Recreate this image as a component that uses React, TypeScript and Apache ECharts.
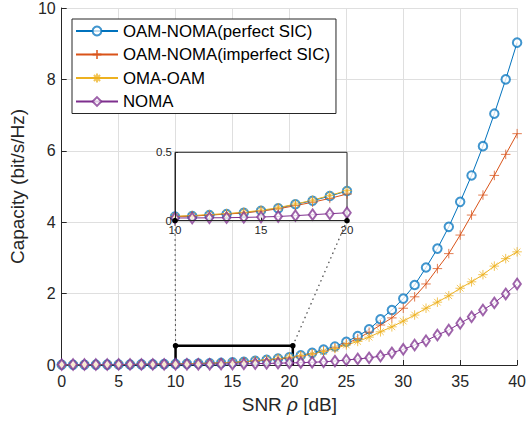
import React, { useEffect, useRef } from "react";
import * as echarts from "echarts";

const snr = [0, 1, 2, 3, 4, 5, 6, 7, 8, 9, 10, 11, 12, 13, 14, 15, 16, 17, 18, 19, 20, 21, 22, 23, 24, 25, 26, 27, 28, 29, 30, 31, 32, 33, 34, 35, 36, 37, 38, 39, 40];

const perfectSIC = [0.006, 0.007, 0.008, 0.009, 0.011, 0.013, 0.015, 0.018, 0.021, 0.025,
  0.030, 0.034, 0.042, 0.049, 0.058, 0.073, 0.090, 0.120, 0.146, 0.180, 0.217,
  0.27, 0.34, 0.43, 0.52, 0.65, 0.81, 1.00, 1.28, 1.54, 1.86,
  2.24, 2.73, 3.26, 3.87, 4.57, 5.31, 6.13, 7.04, 8.00, 9.03];

const imperfectSIC = [0.006, 0.007, 0.008, 0.009, 0.011, 0.013, 0.015, 0.018, 0.021, 0.025,
  0.030, 0.034, 0.041, 0.048, 0.057, 0.070, 0.087, 0.110, 0.135, 0.163, 0.195,
  0.25, 0.31, 0.39, 0.48, 0.60, 0.74, 0.92, 1.12, 1.32, 1.59,
  1.91, 2.27, 2.70, 3.12, 3.64, 4.20, 4.76, 5.31, 5.90, 6.48];

const omaOam = [0.007, 0.008, 0.009, 0.010, 0.012, 0.014, 0.016, 0.019, 0.023, 0.027,
  0.032, 0.038, 0.045, 0.052, 0.062, 0.076, 0.095, 0.122, 0.150, 0.185, 0.220,
  0.26, 0.31, 0.38, 0.46, 0.56, 0.66, 0.78, 0.93, 1.07, 1.23,
  1.40, 1.59, 1.76, 1.94, 2.15, 2.33, 2.53, 2.77, 2.98, 3.17];

const noma = [0.012, 0.013, 0.013, 0.014, 0.015, 0.016, 0.016, 0.017, 0.018, 0.019,
  0.020, 0.020, 0.021, 0.022, 0.024, 0.027, 0.031, 0.037, 0.044, 0.051, 0.058,
  0.066, 0.076, 0.090, 0.110, 0.140, 0.170, 0.200, 0.250, 0.340, 0.440,
  0.56, 0.68, 0.84, 0.98, 1.17, 1.35, 1.54, 1.74, 1.99, 2.27];

const seriesNames = ["OAM-NOMA(perfect SIC)", "OAM-NOMA(imperfect SIC)", "OMA-OAM", "NOMA"];
const seriesValues = [perfectSIC, imperfectSIC, omaOam, noma];
const seriesColors = ["#0072BD", "#D95319", "#EDB120", "#7E2F8E"];

const xTicks = { min: 0, max: 40, interval: 5 };
const yTicks = { min: 0, max: 10, interval: 2 };
const insetX = { min: 10, max: 20, interval: 5 };
const insetY = { min: 0, max: 0.5, interval: 0.5 };

const zoomBoxX = [10, 10, 20.3, 20.3];
const zoomBoxY = [0, 0.54, 0.54, 0];

const FONT = "'Liberation Sans', Arial, Helvetica, sans-serif";
const TXT = "#262626";

const plusPath = "path://M5,0L5,10M0,5L10,5";
const starPath = "path://M5,0L5,10M0,5L10,5M1.5,1.5L8.5,8.5M8.5,1.5L1.5,8.5";
const symbols: any[] = ["emptyCircle", plusPath, starPath, "emptyDiamond"];
const symbolSizes: any[] = [8.5, 9.5, 9.5, [7.5, 10.5]];

function makeSeries(idx: number, gridIdx: number, from: number, to: number) {
  const vals = seriesValues[idx];
  const color = seriesColors[idx];
  const isPath = idx === 1 || idx === 2;
  return {
    name: seriesNames[idx],
    type: "line",
    xAxisIndex: gridIdx,
    yAxisIndex: gridIdx,
    data: snr.slice(from, to).map((x, i) => [x, vals[from + i]]),
    symbol: symbols[idx],
    symbolSize: symbolSizes[idx],
    showSymbol: true,
    z: gridIdx === 0 ? 3 : 11,
    lineStyle: { color, width: 1 },
    itemStyle: isPath
      ? { color, borderColor: color, borderWidth: 1, opacity: 0.75 }
      : { color, borderWidth: 1, opacity: 0.75 },
    emphasis: { disabled: true },
  };
}

export default function App() {
  const ref = useRef<HTMLDivElement>(null);
  useEffect(() => {
    const chart = echarts.init(ref.current!, undefined, { renderer: "svg" });
    const option: any = {
      animation: false,
      backgroundColor: "#fff",
      textStyle: { fontFamily: FONT },
      grid: [
        { left: 59, right: 10, top: 7.5, bottom: 60, containLabel: false },
        {
          left: 175, top: 152.3, width: 172, height: 68.4, show: true,
          backgroundColor: "#fff", borderColor: TXT, borderWidth: 1, z: 10,
        },
      ],
      legend: {
        orient: "vertical",
        left: 72,
        top: 19,
        data: seriesNames,
        backgroundColor: "#fff",
        borderColor: TXT,
        borderWidth: 1,
        borderRadius: 0,
        padding: [3, 6, 3, 3],
        itemWidth: 42,
        itemHeight: 11,
        itemGap: 5.5,
        textStyle: { fontSize: 16.8, color: "#000", fontFamily: FONT, lineHeight: 18 },
        z: 20,
      },
      xAxis: [
        {
          type: "value", gridIndex: 0, ...xTicks,
          name: "SNR {i|ρ} [dB]",
          nameLocation: "middle", nameGap: 30,
          nameTextStyle: {
            fontSize: 19, color: TXT, fontFamily: FONT,
            rich: { i: { fontSize: 19, fontStyle: "italic", color: TXT, fontFamily: FONT } },
          },
          axisLine: { show: true, onZero: false, lineStyle: { color: TXT, width: 1 } },
          axisTick: { show: true, inside: true, length: 5, lineStyle: { color: TXT } },
          axisLabel: { fontSize: 16, color: TXT, margin: 8, fontFamily: FONT },
          splitLine: { show: true, lineStyle: { color: "#dfdfdf", width: 1 } },
        },
        {
          type: "value", gridIndex: 1, ...insetX, z: 12,
          axisLine: { show: true, onZero: false, lineStyle: { color: TXT, width: 1 } },
          axisTick: { show: true, inside: true, length: 3, lineStyle: { color: TXT } },
          axisLabel: { fontSize: 11.5, color: TXT, margin: 3, fontFamily: FONT },
          splitLine: { show: false },
        },
      ],
      yAxis: [
        {
          type: "value", gridIndex: 0, ...yTicks,
          name: "Capacity (bit/s/Hz)",
          nameLocation: "middle", nameGap: 30,
          nameTextStyle: { fontSize: 19, color: TXT, fontFamily: FONT },
          axisLine: { show: true, onZero: false, lineStyle: { color: TXT, width: 1 } },
          axisTick: { show: true, inside: true, length: 5, lineStyle: { color: TXT } },
          axisLabel: { fontSize: 16, color: TXT, margin: 6, fontFamily: FONT },
          splitLine: { show: true, lineStyle: { color: "#dfdfdf", width: 1 } },
        },
        {
          type: "value", gridIndex: 1, ...insetY, z: 12,
          axisLine: { show: true, onZero: false, lineStyle: { color: TXT, width: 1 } },
          axisTick: { show: true, inside: true, length: 3, lineStyle: { color: TXT } },
          axisLabel: { fontSize: 11.5, color: TXT, margin: 3, fontFamily: FONT },
          splitLine: { show: false },
        },
      ],
      series: [
        {
          name: "zoomBox",
          type: "line",
          xAxisIndex: 0,
          yAxisIndex: 0,
          data: zoomBoxX.map((x, i) => [x, zoomBoxY[i]]),
          symbol: "none",
          lineStyle: { color: "#000", width: 2.5 },
          z: 2.5,
          emphasis: { disabled: true },
        },
        ...seriesNames.map((_, i) => makeSeries(i, 0, 0, snr.length)),
        ...seriesNames.map((_, i) => makeSeries(i, 1, 10, 21)),
      ],
    };
    chart.setOption(option);

    const boxTL = chart.convertToPixel({ gridIndex: 0 } as any, [zoomBoxX[1], zoomBoxY[1]]) as number[];
    const boxTR = chart.convertToPixel({ gridIndex: 0 } as any, [zoomBoxX[2], zoomBoxY[2]]) as number[];
    const insBL = chart.convertToPixel({ gridIndex: 1 } as any, [insetX.min, insetY.min]) as number[];
    const insBR = chart.convertToPixel({ gridIndex: 1 } as any, [insetX.max, insetY.min]) as number[];

    const dotted = (a: number[], b: number[]) => ({
      type: "line",
      shape: { x1: a[0], y1: a[1], x2: b[0], y2: b[1] },
      style: { stroke: "#333", lineWidth: 1.1, lineDash: [1.5, 3.5] },
      z: 5,
      silent: true,
    });
    const dot = (p: number[]) => ({
      type: "circle",
      shape: { cx: p[0], cy: p[1], r: 2.8 },
      style: { fill: "#000" },
      z: 30,
      silent: true,
    });
    chart.setOption({
      graphic: [
        dotted(boxTL, insBL),
        dotted(boxTR, insBR),
        dot(boxTL), dot(boxTR), dot(insBL), dot(insBR),
      ],
    });

    return () => chart.dispose();
  }, []);
  return (
    <div
      ref={ref}
      style={{ position: "fixed", left: 0, top: 0, width: 529, height: 425, background: "#fff" }}
    />
  );
}
